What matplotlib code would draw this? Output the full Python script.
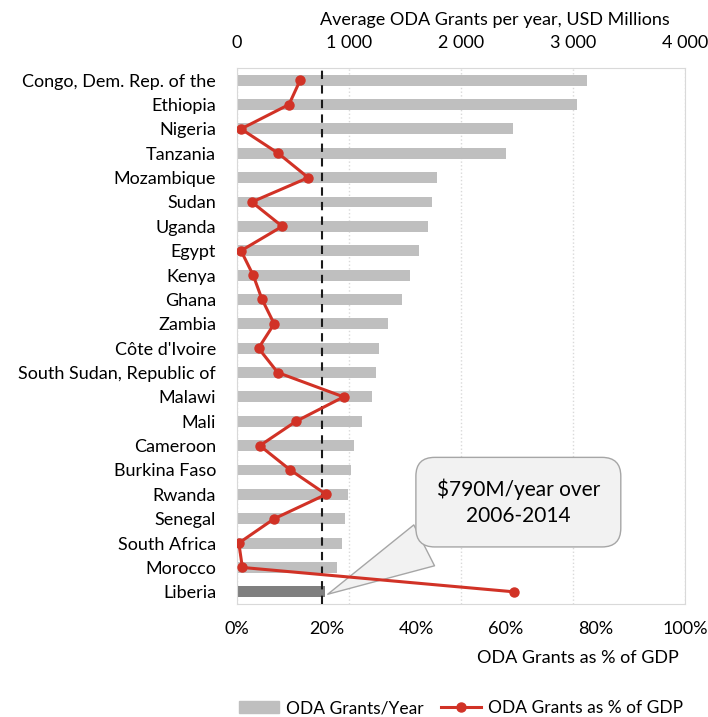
import numpy as np
import matplotlib.pyplot as plt
from matplotlib.patches import Patch
from matplotlib.lines import Line2D

plt.rcParams['font.family'] = ['Lato', 'DejaVu Sans']

countries = ["Congo, Dem. Rep. of the", "Ethiopia", "Nigeria", "Tanzania", "Mozambique",
             "Sudan", "Uganda", "Egypt", "Kenya", "Ghana", "Zambia", "Côte d'Ivoire",
             "South Sudan, Republic of", "Malawi", "Mali", "Cameroon", "Burkina Faso",
             "Rwanda", "Senegal", "South Africa", "Morocco", "Liberia"]
grants = [3125, 3040, 2460, 2400, 1790, 1740, 1705, 1625, 1545, 1470, 1350, 1265,
          1240, 1205, 1120, 1045, 1015, 990, 965, 940, 895, 790]
pct_gdp = [14.1, 11.6, 0.9, 9.2, 15.9, 3.3, 10.1, 0.9, 3.6, 5.6, 8.3, 4.8,
           9.1, 23.8, 13.2, 5.1, 11.9, 19.9, 8.3, 0.4, 1.2, 61.8]
liberia_avg = 790
ref_line = 760

y = np.arange(len(countries))
bar_colors = ['#bfbfbf'] * (len(countries) - 1) + ['#7f7f7f']
red = '#d13226'
grid_c = '#d9d9d9'
fs = 13

fig = plt.figure(figsize=(7.08, 7.17), dpi=100)
ax = fig.add_axes([237 / 708, 1 - 604 / 717, 448 / 708, 536 / 717])
ax2 = ax.twiny()

# bars on the top axis
ax.barh(y, grants, height=0.45, color=bar_colors, zorder=2)
ax.set_xlim(0, 4000)
ax.set_ylim(len(countries) - 0.5, -0.5)
ax.set_yticks(y)
ax.set_yticklabels(countries, fontsize=fs)
ax.xaxis.tick_top()
ax.xaxis.set_label_position('top')
ax.set_xticks([0, 1000, 2000, 3000, 4000])
ax.set_xticklabels(['0', '1 000', '2 000', '3 000', '4 000'], fontsize=fs)
ax.set_xlabel('Average ODA Grants per year, USD Millions', fontsize=fs)
ax.xaxis.set_label_coords(0.576, 1.08)
ax.tick_params(axis='both', length=0)
ax.tick_params(axis='x', pad=12)
ax.tick_params(axis='y', pad=15)
ax.grid(axis='x', color=grid_c, linestyle=':', linewidth=1, zorder=0)
for s in ax.spines.values():
    s.set_color(grid_c)
ax.axvline(ref_line, color='#1a1a1a', linestyle='--', linewidth=1.5, dashes=(4, 3), zorder=3)

# % of GDP line on the bottom axis
ax2.plot(pct_gdp, y, color=red, linewidth=2.2, marker='o', markersize=6.5, zorder=4)
ax2.set_xlim(0, 100)
ax2.xaxis.tick_bottom()
ax2.xaxis.set_label_position('bottom')
ax2.set_xticks([0, 20, 40, 60, 80, 100])
ax2.set_xticklabels([f'{v}%' for v in [0, 20, 40, 60, 80, 100]], fontsize=fs)
ax2.tick_params(axis='x', length=0, pad=12)
ax2.set_xlabel('ODA Grants as % of GDP', fontsize=fs, ha='right')
ax2.xaxis.set_label_coords(0.985, -0.085)
for s in ax2.spines.values():
    s.set_visible(False)

# callout for Liberia
ax.annotate('$790M/year over\n2006-2014', xy=(liberia_avg + 20, y[-1] + 0.1), xycoords='data',
            xytext=(0.628, 0.19), textcoords='axes fraction', ha='center', va='center',
            fontsize=15, zorder=6, linespacing=1.4,
            bbox=dict(boxstyle='round,pad=1.0,rounding_size=0.9', fc='#f2f2f2', ec='#a6a6a6'),
            arrowprops=dict(arrowstyle='wedge,tail_width=2.2,shrink_factor=0.5',
                            fc='#f2f2f2', ec='#a6a6a6', relpos=(0.3, 0.25),
                            shrinkA=0, shrinkB=0))

handles = [Patch(color='#bfbfbf'),
           Line2D([0], [0], color=red, linewidth=2.2, marker='o', markersize=6.5)]
fig.legend(handles, ['ODA Grants/Year', 'ODA Grants as % of GDP'], loc='center',
           bbox_to_anchor=(461 / 708, 1 - 708 / 717), ncol=2, frameon=False,
           fontsize=12.5, handlelength=2.3, columnspacing=1.0, handletextpad=0.4)

fig.savefig('out.png', dpi=100)
